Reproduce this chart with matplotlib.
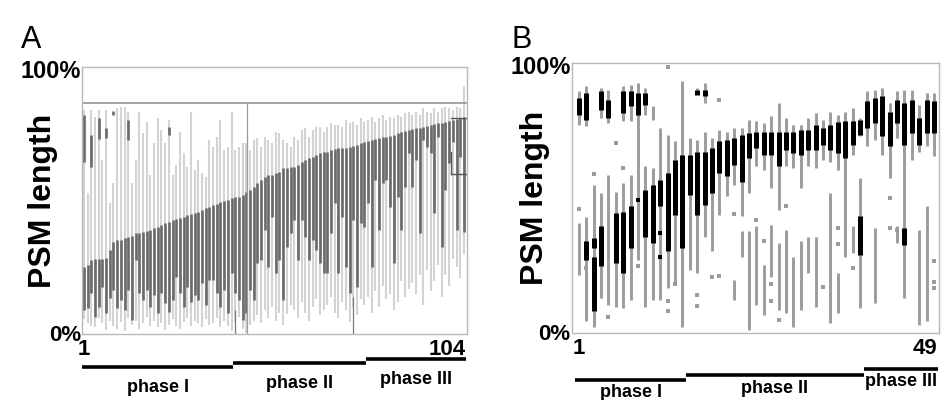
import numpy as np
import matplotlib.pyplot as plt

plt.rcParams['font.family'] = ['Liberation Sans', 'DejaVu Sans']

# ---------------- panel A : 104 embryos ----------------
a_dark_top = [25.2, 25.9, 27.7, 28.0, 28.0, 28.0, 28.3, 31.5, 34.6, 35.2,
              35.2, 35.8, 36.5, 36.7, 37.7, 38.0, 38.3, 38.7, 39.0, 39.6,
              40.2, 40.8, 41.4, 42.1, 42.7, 42.9, 43.3, 43.9, 44.6, 44.9,
              45.2, 45.8, 46.4, 47.1, 47.7, 48.3, 48.6, 49.6, 49.9, 50.2,
              50.8, 51.4, 51.4, 52.1, 53.3, 53.9, 55.2, 56.4, 57.7, 58.9,
              59.5, 59.5, 60.2, 60.8, 62.0, 62.0, 62.7, 62.7, 63.3, 64.5,
              65.2, 65.8, 66.4, 67.0, 67.7, 68.3, 68.3, 68.9, 69.2, 69.5,
              69.5, 69.8, 70.0, 70.4, 70.8, 71.4, 72.0, 72.3, 72.6, 73.0,
              73.3, 73.6, 73.9, 74.2, 74.5, 75.1, 75.8, 76.1, 76.4, 76.7,
              77.0, 77.3, 77.6, 78.0, 78.3, 78.6, 78.9, 79.2, 79.5, 79.8,
              80.1, 80.5, 80.8, 81.4]
a_dark_bot = [9.0, 9.6, 15.2, 6.5, 10.2, 17.7, 7.8, 13.4, 16.5, 9.6,
              12.7, 9.0, 16.5, 5.3, 27.7, 15.2, 12.7, 16.5, 10.2, 14.6,
              7.8, 15.2, 11.5, 8.4, 12.7, 21.5, 15.2, 10.2, 17.7, 12.1,
              14.6, 12.7, 19.0, 10.9, 20.2, 20.2, 15.2, 10.2, 16.5, 7.8,
              22.7, 15.2, 12.7, 5.3, 7.8, 16.5, 12.7, 26.5, 27.7, 39.0,
              25.2, 43.9, 22.7, 27.7, 12.7, 32.7, 37.7, 42.7, 27.7, 42.7,
              36.5, 27.7, 35.2, 31.5, 26.5, 22.7, 22.7, 37.7, 48.9, 22.7,
              43.9, 25.2, 15.2, 42.7, 17.7, 41.4, 40.2, 48.9, 25.2, 57.7,
              39.0, 56.4, 57.7, 47.7, 26.5, 51.4, 39.0, 55.2, 67.7, 55.2,
              65.2, 37.7, 72.6, 70.2, 67.7, 45.2, 73.9, 32.7, 53.9, 64.0,
              72.0, 39.0, 66.4, 38.3]
a_light_top = [84.0, 52.7, 84.0, 81.4, 84.0, 65.2, 84.0, 48.9, 56.4, 84.5,
               85.1, 85.1, 83.0, 56.4, 65.2, 83.3, 75.1, 79.5, 59.5, 71.4,
               80.8, 76.4, 71.4, 80.0, 59.5, 63.3, 75.8, 67.7, 62.7, 83.3,
               61.4, 65.2, 60.2, 58.9, 72.6, 70.2, 73.9, 80.1, 68.9, 70.2,
               83.3, 68.9, 70.2, 71.4, 71.4, 68.9, 72.6, 73.3, 70.2, 73.9,
               72.6, 71.4, 75.8, 75.1, 72.6, 71.4, 70.2, 73.9, 72.6, 76.4,
               77.0, 73.9, 76.4, 77.6, 77.6, 75.8, 77.6, 78.9, 78.3, 78.3,
               77.6, 80.1, 78.9, 79.5, 78.3, 80.8, 79.5, 80.1, 81.4, 79.5,
               80.8, 82.0, 80.1, 81.4, 80.8, 82.0, 81.4, 82.7, 83.3, 82.0,
               83.3, 82.0, 84.5, 83.3, 82.7, 84.5, 83.3, 84.5, 85.1, 84.5,
               83.9, 85.1, 84.5, 93.0]
a_light_bot = [5.5, 4.0, 3.0, 2.5, 6.0, 4.0, 1.5, 5.0, 3.0, 2.0,
               4.5, 1.0, 6.0, 3.5, 5.0, 2.0, 4.0, 6.5, 3.0, 5.0,
               2.5, 4.0, 1.5, 3.5, 5.5, 3.0, 2.0, 4.5, 6.0, 3.0,
               5.0, 4.0, 2.5, 5.5, 3.5, 4.0, 6.0, 2.5, 5.0, 3.0,
               1.0, 4.5, 6.5, 2.0, 0.5, 3.5, 5.0, 7.0, 4.0, 9.0,
               6.0, 10.0, 5.0, 8.0, 3.5, 7.5, 11.0, 9.0, 6.0, 12.0,
               8.0, 5.0, 10.0, 13.0, 7.0, 9.0, 11.0, 14.0, 8.0, 6.0,
               12.0, 9.0, 4.5, 10.0, 7.0, 13.0, 11.0, 14.0, 8.0, 16.0,
               10.0, 18.0, 13.0, 15.0, 9.0, 12.0, 20.0, 14.0, 17.0, 19.0,
               15.0, 22.0, 11.0, 24.0, 16.0, 20.0, 26.0, 14.0, 22.0, 18.0,
               28.0, 25.0, 21.0, 30.0]
# short dark pieces near the top of the first columns
a_top_col = [1, 3, 5, 7, 9, 13, 24]
a_top_lo = [64.5, 62.7, 73.0, 73.3, 82.0, 72.6, 74.5]
a_top_hi = [82.0, 74.5, 81.0, 77.0, 83.5, 80.1, 77.6]
a_phases = [("phase I", 1, 41), ("phase II", 42, 77), ("phase III", 78, 104)]

# ---------------- panel B : 49 embryos ----------------
nan = np.nan
b_g1_lo = [77.1, 76.5, nan, 79.6, 77.7, nan, 78.4, 78.4, 27.1, 80.8,
           79.0, 12.3, 16.6, 19.0, 2.4, 23.4, 88.9, 85.1, 30.2, 43.8,
           50.6, 54.9, 43.2, 51.8, 61.7, 60.4, 53.7, 45.6, 61.7, 61.1,
           53.7, 61.7, 61.1, 64.1, 63.5, 60.4, 28.3, 66.0, 72.8, 69.1,
           71.6, 66.0, 57.4, 72.2, 12.9, 64.1, 67.2, 69.1, 65.4]
b_g1_hi = [89.5, 91.3, nan, 90.7, 90.0, nan, 91.3, 92.0, 92.6, 90.7,
           83.9, 75.9, 73.4, 71.0, 93.2, 72.2, 90.7, 92.6, 72.2, 75.3,
           74.6, 75.9, 75.9, 79.0, 78.4, 77.7, 80.2, 85.1, 79.6, 77.1,
           77.1, 79.6, 81.4, 79.0, 82.0, 80.8, 82.0, 83.3, 79.6, 89.5,
           90.0, 90.7, 85.1, 89.5, 90.0, 90.0, 84.5, 88.9, 88.9]
b_b1_lo = [80.8, 79.0, nan, 82.7, 79.6, nan, 81.4, 83.9, 80.8, 84.5,
           nan, 46.9, 30.2, 43.8, 31.4, 51.2, 88.0, 87.6, 51.8, 59.2,
           58.0, 62.3, 56.1, 64.8, 68.5, 66.0, 66.0, 61.7, 67.9, 66.6,
           66.0, 67.9, 67.9, 69.7, 67.9, 66.6, 64.8, 69.7, 73.4, 75.9,
           77.7, 72.8, 69.1, 77.7, 69.7, 74.0, 69.7, 74.0, 74.0]
b_b1_hi = [87.0, 88.9, nan, 89.5, 86.4, nan, 89.5, 89.5, 88.9, 88.9,
           nan, 56.7, 59.2, 64.1, 66.0, 66.0, 90.0, 90.0, 68.5, 71.0,
           71.6, 72.2, 73.4, 74.0, 74.6, 74.6, 74.6, 74.6, 74.6, 74.6,
           75.3, 75.3, 77.1, 75.9, 77.1, 78.0, 78.4, 78.4, 79.0, 85.8,
           87.0, 87.6, 82.0, 86.4, 85.1, 86.4, 79.6, 86.4, 85.8]
b_g2_lo = [21.5, 4.3, 2.4, 13.0, 10.4, 9.8, 9.2, 12.3, nan, 9.8,
           12.3, nan, nan, nan, nan, nan, 22.2, 35.7, nan, nan,
           nan, 12.3, 28.3, 1.2, 10.4, 6.7, 20.9, 8.6, 7.3, 2.4,
           8.6, 22.2, 9.8, nan, 3.6, 7.3, nan, 29.6, 9.2, nan,
           11.0, nan, nan, 33.3, nan, nan, 3.0, 4.3, nan]
b_g2_hi = [40.7, 43.0, 55.0, 51.8, 58.6, 52.4, 55.5, 58.6, nan, 61.7,
           61.0, nan, nan, nan, nan, nan, 71.6, 74.6, nan, nan,
           nan, 19.7, 37.6, 37.6, 39.5, 25.3, 40.1, 33.3, 38.2, 28.3,
           33.9, 35.7, 35.7, nan, 51.8, 22.2, nan, 39.5, 57.4, nan,
           38.8, nan, nan, 39.5, nan, nan, 38.2, 46.9, nan]
b_b2_lo = [nan, 27.0, 8.0, 25.0, nan, 25.9, 22.2, 31.4, nan, 35.7,
           33.3, nan, nan, nan, nan, nan, 43.8, 47.5, nan, nan,
           nan, nan, nan, nan, nan, nan, nan, nan, nan, nan,
           nan, nan, nan, nan, nan, nan, nan, nan, 29.0, nan,
           nan, nan, nan, nan, 32.7, nan, nan, nan, nan]
b_b2_hi = [nan, 33.9, 28.3, 39.5, nan, 44.4, 45.0, 46.9, nan, 53.0,
           54.9, nan, nan, nan, nan, nan, 67.2, 67.2, nan, nan,
           nan, nan, nan, nan, nan, nan, nan, nan, nan, nan,
           nan, nan, nan, nan, nan, nan, nan, nan, 43.2, nan,
           nan, nan, nan, nan, 38.8, nan, nan, nan, nan]
# extra black piece in column 3
b_b3 = (3, 31.4, 35.1)
# isolated short measurements
b_dot_col = [1, 2, 3, 5, 6, 7, 9, 9, 12, 12, 13, 13, 13, 14, 17, 17, 19, 20,
             20, 22, 25, 26, 27, 27, 28, 29, 34, 36, 36, 38, 43, 43, 44, 49, 49, 49]
b_dot_val = [46.0, 24.0, 59.0, 6.0, 70.3, 61.0, 49.3, 25.0, 37.0, 28.0, 98.5, 12.0,
             8.0, 18.0, 14.0, 10.0, 20.8, 86.4, 21.0, 44.0, 41.9, 33.9, 18.0, 12.0,
             5.0, 46.9, 17.2, 39.0, 33.0, 24.0, 50.0, 38.8, 38.0, 26.5, 19.0, 16.6]
b_phases = [("phase I", 1, 15), ("phase II", 16, 39), ("phase III", 40, 49)]

light_a, dark_a = '#d3d3d3', '#6a6a6a'
gray_b = '#9c9c9c'
spine_c = '#b8b8b8'

fig = plt.figure(figsize=(9.42, 4.0), dpi=100)
axA = fig.add_axes([0.087, 0.165, 0.409, 0.6675])
axB = fig.add_axes([0.607, 0.1675, 0.390, 0.675])

# ---- A ----
xa = np.arange(1, len(a_dark_top) + 1)
axA.vlines(xa, a_light_bot, a_light_top, color=light_a, lw=1.5)
axA.vlines(xa, a_dark_bot, a_dark_top, color=dark_a, lw=1.9)
axA.vlines(a_top_col, a_top_lo, a_top_hi, color=dark_a, lw=1.9)
axA.axhline(86.5, color='#8c8c8c', lw=1.1)
axA.vlines([45.2], 0, 86.5, color='#9a9a9a', lw=0.9)
axA.vlines([41.9, 73.9], 0, [9, 14], color='#7a7a7a', lw=0.9)
# bracket near the last columns
axA.plot([100.6, 104.9], [81, 81], color='#555555', lw=1)
axA.plot([100.6, 104.9], [60, 60], color='#555555', lw=1)
axA.plot([100.6, 100.6], [60, 68], color='#555555', lw=1)
axA.set_xlim(0.45, 104.9)
axA.set_ylim(0, 100)

# ---- B ----
xb = np.arange(1, len(b_g1_lo) + 1)


def segs(ax, lo, hi, color, lw):
    lo = np.asarray(lo, float)
    hi = np.asarray(hi, float)
    m = np.isfinite(lo) & np.isfinite(hi)
    ax.vlines(xb[m], lo[m], hi[m], color=color, lw=lw)


segs(axB, b_g1_lo, b_g1_hi, gray_b, 2.1)
segs(axB, b_g2_lo, b_g2_hi, gray_b, 2.1)
segs(axB, b_b1_lo, b_b1_hi, 'black', 3.6)
segs(axB, b_b2_lo, b_b2_hi, 'black', 3.6)
axB.vlines([b_b3[0]], b_b3[1], b_b3[2], color='black', lw=3.6)
dc = np.array(b_dot_col)
dv = np.array(b_dot_val)
isb = np.isin(np.arange(len(dc)), [6, 8, 9])
axB.plot(dc[~isb], dv[~isb], ls='none', marker='s', ms=2.6, color=gray_b, mew=0)
axB.plot(dc[isb], dv[isb], ls='none', marker='s', ms=3.2, color='black', mew=0)
axB.set_xlim(0.05, 49.7)
axB.set_ylim(0, 100)

for ax, n, phases, ys, lab_off in [
        (axA, 104, a_phases, (-12.4, -10.9, -9.4), 7.5),
        (axB, 49, b_phases, (-17.4, -15.6, -13.3), 4.8)]:
    ax.set_xticks([])
    ax.set_yticks([])
    for s in ax.spines.values():
        s.set_color(spine_c)
        s.set_linewidth(1.0)
    ax.text(-0.003, 0.985, '100%', transform=ax.transAxes, ha='right',
            va='center', fontsize=17, fontweight='bold')
    ax.text(-0.003, -0.005, '0%', transform=ax.transAxes, ha='right',
            va='center', fontsize=16, fontweight='bold')
    ax.text(1, -2.0, '1', ha='center', va='top', fontsize=16,
            fontweight='bold', clip_on=False)
    ax.text(n + 0.5, -2.0, str(n), ha='right', va='top', fontsize=16,
            fontweight='bold', clip_on=False)
    for (lab, c0, c1), y in zip(phases, ys):
        ax.plot([c0 - 0.5, c1 + 0.5], [y, y], color='black', lw=2.6,
                clip_on=False, solid_capstyle='butt')
        ax.text((c0 + c1) / 2, y - lab_off, lab, ha='center', va='center',
                fontsize=13, fontweight='bold', clip_on=False)

axA.set_ylabel('PSM length', fontsize=23, fontweight='bold', labelpad=17)
axB.set_ylabel('PSM length', fontsize=23, fontweight='bold', labelpad=16)
fig.text(0.022, 0.9, 'A', fontsize=22, va='center', ha='left')
fig.text(0.543, 0.9, 'B', fontsize=22, va='center', ha='left')

fig.savefig('out.png', dpi=100, facecolor='white')
